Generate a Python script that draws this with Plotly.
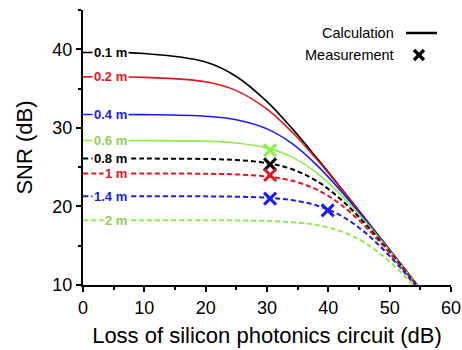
import plotly.graph_objects as go

# ---- data ----
loss = [0, 10, 20, 25, 30, 34, 38, 42, 46, 50, 54, 58]
snr_01 = [39.59, 39.46, 38.38, 36.54, 33.33, 30.00, 26.29, 22.42, 18.47, 14.49, 10.50, 6.50]
snr_02 = [36.49, 36.43, 35.86, 34.74, 32.38, 29.53, 26.09, 22.33, 18.43, 14.47, 10.49, 6.50]
snr_04 = [31.70, 31.68, 31.48, 31.03, 29.87, 28.05, 25.35, 22.01, 18.30, 14.42, 10.47, 6.49]
snr_06 = [28.40, 28.39, 28.30, 28.08, 27.45, 26.31, 24.34, 21.51, 18.08, 14.33, 10.43, 6.47]
snr_08 = [26.10, 26.09, 26.04, 25.91, 25.51, 24.76, 23.29, 20.93, 17.80, 14.21, 10.38, 6.45]
snr_10 = [24.20, 24.19, 24.16, 24.07, 23.81, 23.29, 22.19, 20.26, 17.47, 14.06, 10.32, 6.43]
snr_14 = [21.30, 21.30, 21.28, 21.24, 21.10, 20.81, 20.15, 18.85, 16.67, 13.68, 10.15, 6.36]
snr_20 = [18.25, 18.25, 18.24, 18.22, 18.15, 18.00, 17.65, 16.86, 15.36, 12.97, 9.83, 6.22]

labels = ["0.1 m", "0.2 m", "0.4 m", "0.6 m", "0.8 m", "1 m", "1.4 m", "2 m"]
series = [snr_01, snr_02, snr_04, snr_06, snr_08, snr_10, snr_14, snr_20]
dashed = [False, False, False, False, True, True, True, True]

meas_loss = [30.5, 30.5, 30.5, 30.5, 39.9]
meas_snr = [27.15, 25.35, 24.0, 21.0, 19.5]
meas_label = ["0.6 m", "0.8 m", "1 m", "1.4 m", "1.4 m"]

x_ticks = [0, 10, 20, 30, 40, 50, 60]
y_ticks = [10, 20, 30, 40]

# ---- styles ----
BLACK, RED, BLUE, GREEN = "#000000", "#e8141c", "#1a1aff", "#86f046"
line_col = {"0.1 m": BLACK, "0.2 m": RED, "0.4 m": BLUE, "0.6 m": GREEN,
            "0.8 m": BLACK, "1 m": RED, "1.4 m": BLUE, "2 m": GREEN}
text_col = {"0.1 m": BLACK, "0.2 m": RED, "0.4 m": BLUE, "0.6 m": "#8fd055",
            "0.8 m": BLACK, "1 m": RED, "1.4 m": BLUE, "2 m": "#8fd055"}
FONT = "Liberation Sans, Arial, sans-serif"

W, H = 462, 350
ML, MR, MT, MB = 83, 11, 10, 65
pw, ph = W - ML - MR, H - MT - MB


def px_to_paper(px, py):
    return (px - ML) / pw, (H - MB - py) / ph


fig = go.Figure()
for lab, ys, d in zip(labels, series, dashed):
    fig.add_trace(go.Scatter(
        x=loss, y=ys, mode="lines", line_shape="spline",
        line=dict(color=line_col[lab], width=2 if d else 1.6,
                  dash="5px,3px" if d else "solid"),
        showlegend=False, hoverinfo="skip"))

fig.add_trace(go.Scatter(
    x=meas_loss, y=meas_snr, mode="markers", showlegend=False,
    marker=dict(symbol="x-thin", size=12,
                line=dict(width=3, color=[line_col[l] for l in meas_label]))))

# curve labels
for lab, ys in zip(labels, series):
    fig.add_annotation(x=7.5, y=ys[0], xref="x", yref="y", text="<b>%s</b>" % lab,
                       showarrow=False, xanchor="right", yanchor="middle",
                       bgcolor="white", borderpad=1,
                       font=dict(family=FONT, size=13, color=text_col[lab]))

# custom legend (text + sample marks)
for txt, py in [("Calculation", 33), ("Measurement", 55)]:
    xx, yy = px_to_paper(396, py)
    fig.add_annotation(x=xx, y=yy, xref="paper", yref="paper", text=txt,
                       showarrow=False, xanchor="right", yanchor="middle",
                       font=dict(family=FONT, size=14.5, color="black"))

x0, y0 = px_to_paper(406, 33)
x1, _ = px_to_paper(437, 33)
fig.add_shape(type="line", xref="paper", yref="paper", x0=x0, x1=x1, y0=y0, y1=y0,
              line=dict(color="black", width=2.5))
cx, cy = 419, 55
for dx, dy in [(-5, -5), (-5, 5)]:
    a0, b0 = px_to_paper(cx + dx, cy + dy)
    a1, b1 = px_to_paper(cx - dx, cy - dy)
    fig.add_shape(type="line", xref="paper", yref="paper", x0=a0, y0=b0, x1=a1, y1=b1,
                  line=dict(color="black", width=3.2))

axis_common = dict(showgrid=False, zeroline=False, showline=True, linecolor="black",
                   linewidth=2, tickwidth=1.5, tickcolor="black", automargin=False,
                   tickfont=dict(family=FONT, size=18, color="black"))

fig.update_layout(
    width=W, height=H, margin=dict(l=ML, r=MR, t=MT, b=MB),
    paper_bgcolor="white", plot_bgcolor="white",
    xaxis=dict(range=[0, 60], tickvals=x_ticks, ticks="outside", ticklen=5,
               minor=dict(ticks="outside", dtick=5, ticklen=3, tickcolor="black", tickwidth=1.5),
               title=dict(text="Loss of silicon photonics circuit (dB)", standoff=11,
                          font=dict(family=FONT, size=22, color="black")),
               **axis_common),
    yaxis=dict(range=[10, 45], tickvals=y_ticks, ticks="outside", ticklen=5,
               minor=dict(ticks="outside", dtick=5, ticklen=3, tickcolor="black", tickwidth=1.5),
               title=dict(text="SNR (dB)", standoff=14,
                          font=dict(family=FONT, size=22, color="black")),
               **axis_common),
    xaxis2=dict(range=[0, 60], overlaying="x", side="top", anchor="y", dtick=5, tick0=0,
                ticks="inside", ticklen=4, showticklabels=False, **axis_common),
    yaxis2=dict(range=[10, 45], overlaying="y", side="right", anchor="x", dtick=5, tick0=10,
                ticks="inside", ticklen=4, showticklabels=False, **axis_common),
    showlegend=False,
)

fig.write_html("out.html")
